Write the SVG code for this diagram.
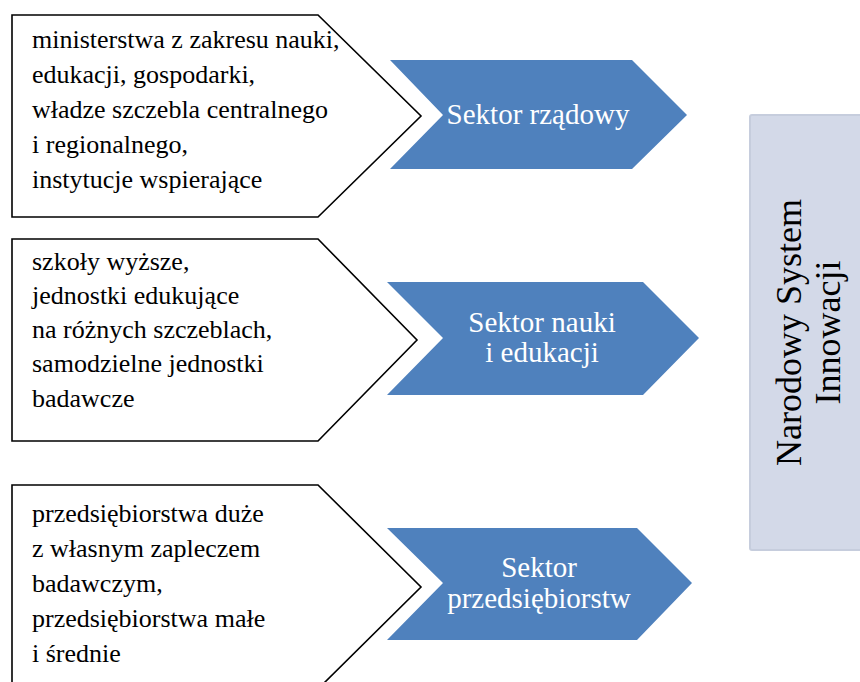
<svg xmlns="http://www.w3.org/2000/svg" width="860" height="682" viewBox="0 0 860 682">
<style>
.src{fill:#ffffff;stroke:#000000;stroke-width:1.6;stroke-linejoin:miter}
.srct{font-size:26px;fill:#000000}
.arr{fill:#4F81BD;stroke:none}
.arrt{font-size:29px;fill:#ffffff;text-anchor:middle}
.nsi{fill:#D3D9E8;stroke:#C6CDDD;stroke-width:2}
.nsit{font-size:36px;fill:#000000;text-anchor:middle}
</style>
<rect width="860" height="682" fill="#ffffff"/>
<g id="src1" font-family="Liberation Serif, Times New Roman, serif">
<polygon class="src" points="12,15 318,15 421,116 318,217 12,217"/>
<text class="srct"><tspan x="32" y="48">ministerstwa z zakresu nauki,</tspan><tspan x="32" y="83">edukacji, gospodarki,</tspan><tspan x="32" y="118">władze szczebla centralnego</tspan><tspan x="32" y="153">i regionalnego,</tspan><tspan x="32" y="188">instytucje wspierające</tspan></text>
</g>
<g id="src2" font-family="Liberation Serif, Times New Roman, serif">
<polygon class="src" points="12,239 318,239 417,340 318,441 12,441"/>
<text class="srct"><tspan x="32" y="270">szkoły wyższe,</tspan><tspan x="32" y="304">jednostki edukujące</tspan><tspan x="32" y="338">na różnych szczeblach,</tspan><tspan x="32" y="372">samodzielne jednostki</tspan><tspan x="32" y="407">badawcze</tspan></text>
</g>
<g id="src3" font-family="Liberation Serif, Times New Roman, serif">
<polygon class="src" points="12,485 318,485 421,587 318,689 12,689"/>
<text class="srct"><tspan x="32" y="522">przedsiębiorstwa duże</tspan><tspan x="32" y="557">z własnym zapleczem</tspan><tspan x="32" y="592">badawczym,</tspan><tspan x="32" y="627">przedsiębiorstwa małe</tspan><tspan x="32" y="662">i średnie</tspan></text>
</g>
<g id="sektor1" font-family="Liberation Serif, Times New Roman, serif">
<polygon class="arr" points="390,60 632,60 687,115 632,169 390,169 443,115"/>
<text class="arrt" x="538" y="124">Sektor rządowy</text>
</g>
<g id="sektor2" font-family="Liberation Serif, Times New Roman, serif">
<polygon class="arr" points="387,282 643,282 699,338 643,395 387,395 443,338"/>
<text class="arrt"><tspan x="542" y="332">Sektor nauki</tspan><tspan x="542" y="362">i edukacji</tspan></text>
</g>
<g id="sektor3" font-family="Liberation Serif, Times New Roman, serif">
<polygon class="arr" points="387,528 637,528 692,583 637,640 387,640 443,583"/>
<text class="arrt"><tspan x="539" y="577">Sektor</tspan><tspan x="539" y="608">przedsiębiorstw</tspan></text>
</g>
<g id="nsi" font-family="Liberation Serif, Times New Roman, serif">
<rect class="nsi" x="750" y="115" width="130" height="435" rx="2"/>
<text class="nsit" transform="translate(801,332.5) rotate(-90)" x="0" y="0">Narodowy System</text>
<text class="nsit" transform="translate(840,332.5) rotate(-90)" x="0" y="0">Innowacji</text>
</g>
<g id="connectors"></g>
</svg>
